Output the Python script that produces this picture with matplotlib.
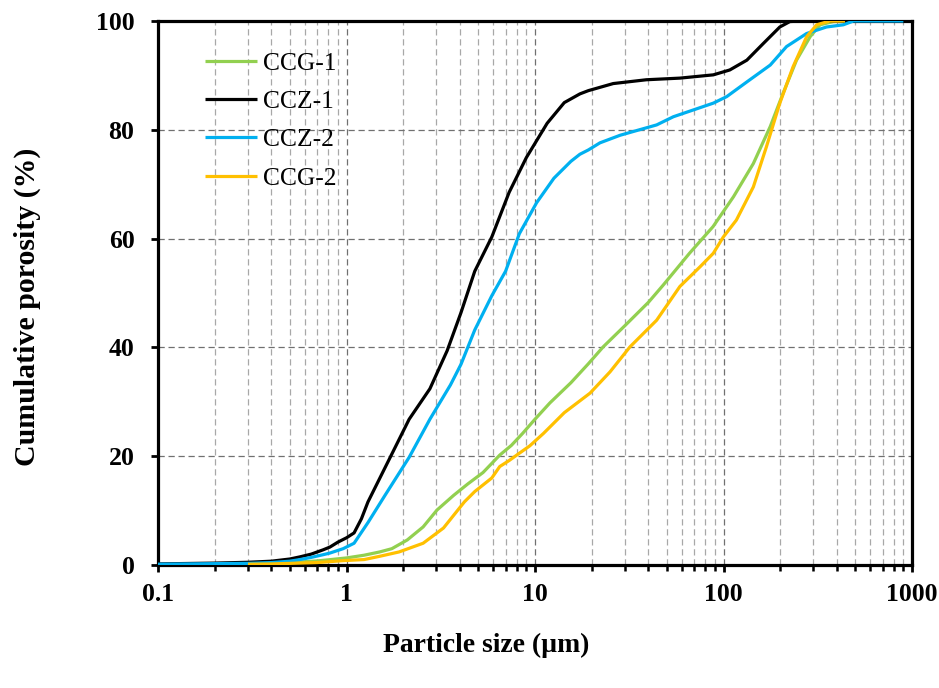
import matplotlib.pyplot as plt
from matplotlib.ticker import FixedLocator, LogLocator, NullFormatter

# particle size (um) and cumulative porosity (%)
ccg1_x = [0.3, 0.4, 0.5, 0.6, 0.7, 0.8, 1.0, 1.24, 1.5, 1.74, 2.1, 2.55, 3.02, 3.7, 4.4,
          5.3, 6.5, 7.5, 8.6, 10, 12, 15.5, 19.2, 23, 30, 40, 48, 66, 88, 113, 144, 177, 207,
          244, 288, 325, 383, 440]
ccg1_y = [0.2, 0.3, 0.45, 0.6, 0.75, 0.95, 1.3, 1.8, 2.4, 3.0, 4.6, 7.0, 10.1, 12.8, 14.9,
          17.0, 20.2, 22.0, 24.2, 26.8, 29.8, 33.5, 37.0, 40.1, 44.0, 48.3, 51.5, 57.3, 62.2,
          67.7, 73.8, 80.6, 86.7, 92.8, 97.1, 99.3, 99.9, 100]

ccz1_x = [0.1, 0.2, 0.3, 0.4, 0.5, 0.567, 0.65, 0.753, 0.817, 0.9, 1.0, 1.097, 1.2, 1.3, 1.74,
          2.15, 2.77, 3.42, 4.05, 4.79, 5.9, 7.29, 9.0, 11.6, 14.3, 17.3, 19.2, 26, 39, 58.7,
          88.3, 108, 133, 163, 199, 225, 260, 500]
ccz1_y = [0.2, 0.35, 0.5, 0.7, 1.1, 1.5, 2.0, 2.8, 3.3, 4.2, 5.0, 5.9, 8.5, 11.6, 20.4,
          26.8, 32.4, 39.4, 46.4, 54.0, 60.3, 68.5, 74.9, 81.2, 85.0, 86.6, 87.2, 88.5, 89.2, 89.5,
          90.1, 91.0, 92.8, 95.9, 98.9, 99.9, 100, 100]

ccz2_x = [0.1, 0.2, 0.3, 0.4, 0.5, 0.567, 0.65, 0.753, 0.817, 0.96, 1.097, 1.3, 1.6, 2.15,
          2.77, 3.56, 4.05, 4.79, 5.9, 6.98, 8.26, 10.2, 12.6, 15.5, 17.3, 19.2, 22.1, 28.3,
          44.2, 54.2, 88.3, 104, 133, 177, 216, 276, 352, 432, 489, 900]
ccz2_y = [0.15, 0.25, 0.3, 0.45, 0.7, 1.0, 1.4, 1.9, 2.2, 3.0, 4.0, 7.8, 12.8, 19.8,
          26.8, 33.1, 36.9, 43.2, 49.5, 54.0, 60.9, 66.6, 71.1, 74.2, 75.5, 76.3, 77.6, 79.0,
          80.9, 82.4, 84.9, 86.1, 88.8, 91.9, 95.3, 97.7, 98.9, 99.3, 100, 100]

ccg2_x = [0.3, 0.4, 0.5, 0.7, 0.96, 1.24, 1.5, 1.9, 2.55, 3.27, 4.22, 4.79, 5.9, 6.5, 7.29,
          8.3, 9.38, 11.1, 14.3, 19.6, 25, 31.9, 44.2, 58.7, 75, 88.3, 99.8, 117, 144, 169,
          199, 234, 276, 312, 367, 441]
ccg2_y = [0.15, 0.2, 0.3, 0.45, 0.8, 1.0, 1.6, 2.4, 4.0, 6.8, 11.6, 13.5, 16.0, 18.1, 19.2,
          20.6, 21.9, 24.2, 28.0, 31.6, 35.5, 40.1, 45.0, 51.2, 54.8, 57.3, 60.3, 63.4, 69.5, 76.9,
          84.9, 91.6, 97.1, 99.3, 100, 100]

x_ticks = [0.1, 1, 10, 100, 1000]
x_tick_labels = ['0.1', '1', '10', '100', '1000']
y_ticks = [0, 20, 40, 60, 80, 100]

plt.rcParams['font.family'] = ['Liberation Serif', 'DejaVu Serif']

fig = plt.figure(figsize=(9.39, 6.88), dpi=100)
ax = fig.add_axes([158 / 939, 1 - 565 / 688, 754 / 939, 544 / 688])

line_kw = dict(lw=2.3, zorder=3, solid_joinstyle='round', solid_capstyle='butt')
ax.plot(ccg1_x, ccg1_y, color='#92D050', label='CCG-1', **line_kw)
ax.plot(ccz1_x, ccz1_y, color='black', label='CCZ-1', **line_kw)
ax.plot(ccz2_x, ccz2_y, color='#00B0F0', label='CCZ-2', **line_kw)
ax.plot(ccg2_x, ccg2_y, color='#FFC000', label='CCG-2', **line_kw)

ax.set_xscale('log')
ax.set_xlim(0.1, 1000)
ax.set_ylim(0, 100)
ax.xaxis.set_major_locator(FixedLocator(x_ticks))
ax.set_xticklabels(x_tick_labels)
ax.xaxis.set_minor_locator(LogLocator(base=10, subs=range(2, 10)))
ax.xaxis.set_minor_formatter(NullFormatter())
ax.set_yticks(y_ticks)

ax.grid(True, which='major', axis='both', linestyle=(0, (5, 3)), color='#707070', lw=0.9)
ax.grid(True, which='minor', axis='x', linestyle=(0, (5, 3)), color='#a8a8a8', lw=0.9)

for s in ax.spines.values():
    s.set_linewidth(2.3)
ax.tick_params(axis='both', which='major', direction='out', length=5, width=2,
               labelsize=18.5)
ax.tick_params(axis='x', which='major', pad=8)
ax.tick_params(axis='y', which='major', pad=12)
ax.tick_params(axis='x', which='minor', direction='out', length=4, width=1.8)
for lab in ax.get_xticklabels() + ax.get_yticklabels():
    lab.set_fontweight('bold')

fig.text(27 / 939, 1 - 307 / 688, 'Cumulative porosity (%)', rotation=90,
         fontsize=21.5, fontweight='bold', ha='center', va='center')
fig.text(486 / 939, 1 - 645 / 688, 'Particle size (µm)', fontsize=19.9,
         fontweight='bold', ha='center', va='center')

ax.legend(loc='upper left', bbox_to_anchor=((205 - 158) / 754, 1 - 31 / 544),
          frameon=False, fontsize=18.4, handlelength=2.05, handletextpad=0.2,
          labelspacing=0.6, borderpad=0, borderaxespad=0)

fig.savefig('out.png', dpi=100)
